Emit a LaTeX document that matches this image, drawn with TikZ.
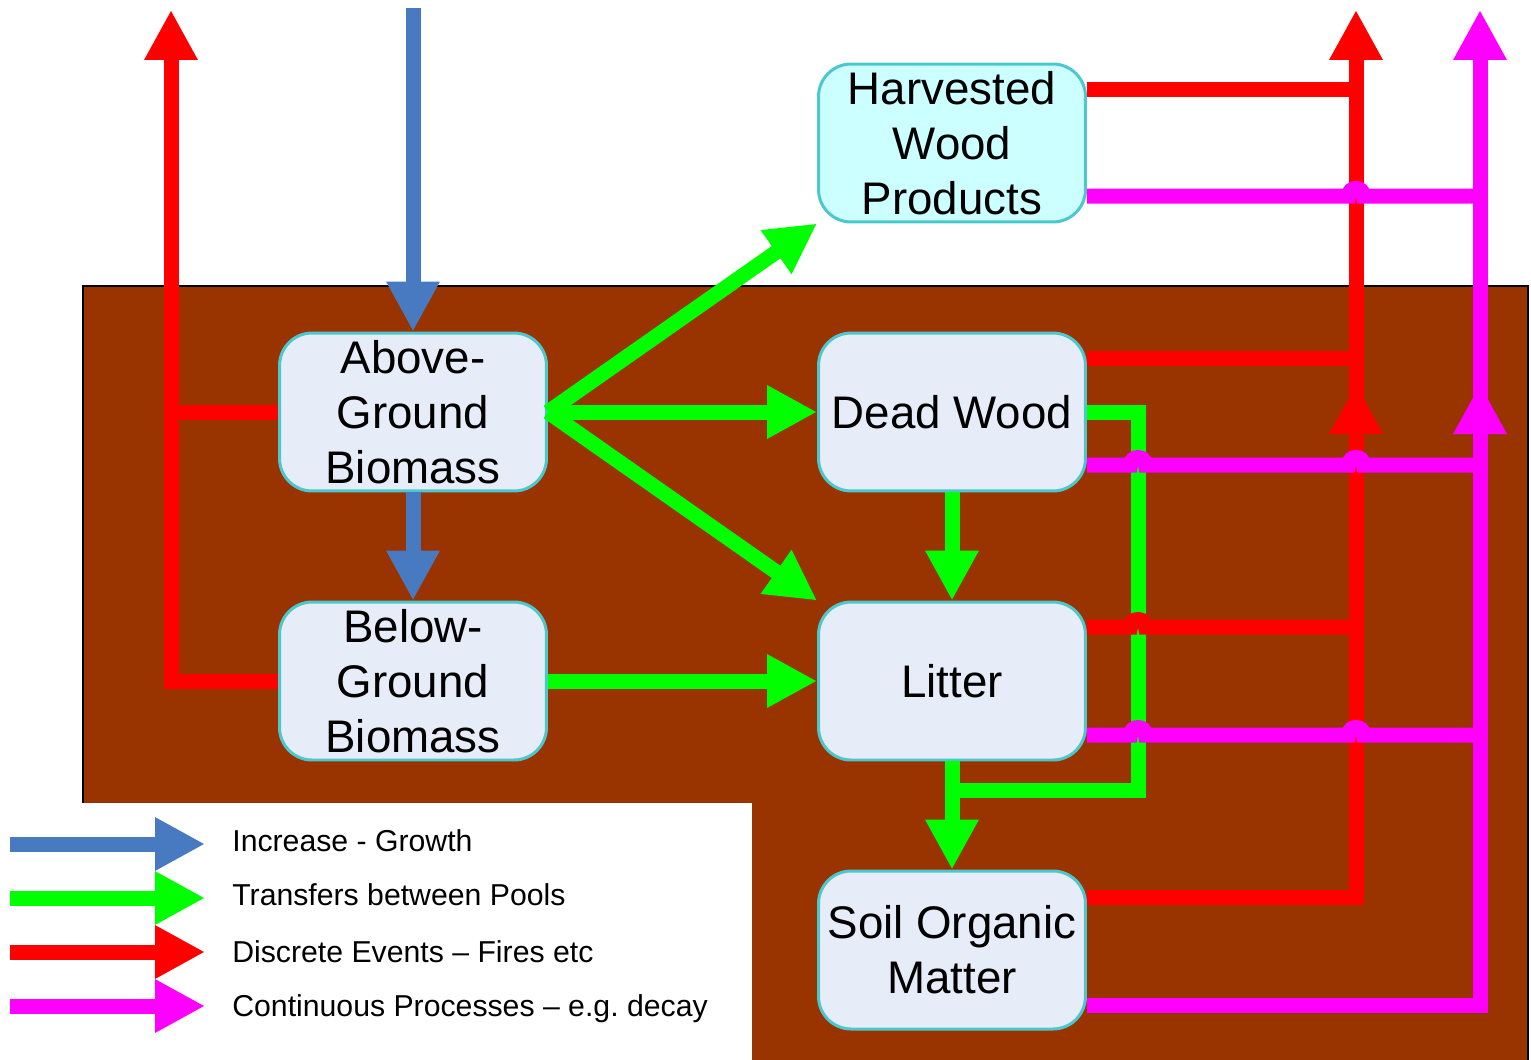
\documentclass[tikz,border=0pt]{standalone}
\usepackage{fontspec}
\setmainfont{Liberation Sans}
\usetikzlibrary{arrows.meta,calc}

\definecolor{soil}{RGB}{153,51,0}
\definecolor{growthblue}{RGB}{72,122,193}
\definecolor{poolgreen}{RGB}{0,255,0}
\definecolor{firered}{RGB}{255,0,0}
\definecolor{decaypink}{RGB}{255,0,255}
\definecolor{poolline}{RGB}{75,200,205}
\definecolor{poolfill}{RGB}{230,236,248}
\definecolor{woodfill}{RGB}{204,255,255}

\begin{document}
\begin{tikzpicture}[x=0.02cm, y=-0.02cm,
  pool/.style={draw=poolline, fill=poolfill, line width=0.06cm, rounded corners=0.65cm,
    minimum width=5.34cm, minimum height=3.16cm, align=center, inner sep=0pt,
    font=\fontsize{26}{31.2}\selectfont},
  flowline/.style={line width=0.3cm},
  flow/.style={flowline, -{Triangle[length=1cm,width=1cm]}},
  growth/.style={color=growthblue},
  transfer/.style={color=poolgreen},
  fire/.style={color=firered},
  decay/.style={color=decaypink},
  hop/.style={to path={-- ([xshift=-0.15cm]\tikztotarget) .. controls +(0,0.2cm) and +(0,0.2cm) .. ([xshift=0.15cm]\tikztotarget)}},
  legend/.style={anchor=base west, inner sep=0pt, font=\fontsize{17.2}{20}\selectfont}]
  \useasboundingbox (0,0) rectangle (1531,1059);

  % ground and legend area
  \draw[line width=0.05cm, fill=soil] (83,286) rectangle (1528,1090);
  \fill[white] (0,803) rectangle (752,1090);

  % pools
  \node[pool, fill=woodfill] (hwp) at (952,143) {Harvested\\Wood\\Products};
  \node[pool] (agb) at (413,412) {Above-\\Ground\\Biomass};
  \node[pool] (bgb) at (413,681) {Below-\\Ground\\Biomass};
  \node[pool] (dw) at (952,412) {Dead Wood};
  \node[pool] (lit) at (952,681) {Litter};
  \node[pool] (som) at (952,950) {Soil Organic\\Matter};

  % ends and buses
  \coordinate (gIn) at (413,8);
  \coordinate (fL) at (171,10);
  \coordinate (fTop) at (1356,10);
  \coordinate (fMid) at (1356,384);
  \coordinate (fJoin) at (1356,402);
  \coordinate (dTop) at (1480,10);
  \coordinate (dMid) at (1480,384);
  \coordinate (dJoin) at (1480,402);
  \coordinate (gBus) at (1138,790);
  \coordinate (hwpF) at ($(hwp.east)+(0,-54)$);
  \coordinate (hwpD) at ($(hwp.east)+(0,53)$);
  \coordinate (dwF) at ($(dw.east)+(0,-54)$);
  \coordinate (dwD) at ($(dw.east)+(0,53)$);
  \coordinate (litF) at ($(lit.east)+(0,-54)$);
  \coordinate (litD) at ($(lit.east)+(0,54)$);
  \coordinate (somF) at ($(som.east)+(0,-53)$);
  \coordinate (somD) at ($(som.east)+(0,55)$);

  % growth
  \draw[flow, growth] (gIn) -- (agb.north);
  \draw[flow, growth] (agb.south) -- (bgb.north);

  % transfers
  \draw[flow, transfer] (agb.east) -- (hwp.south west);
  \draw[flow, transfer] (agb.east) -- (dw.west);
  \draw[flow, transfer] (agb.east) -- (lit.north west);
  \draw[flow, transfer] (bgb.east) -- (lit.west);
  \draw[flow, transfer] (dw.south) -- (lit.north);
  \draw[flow, transfer] (lit.south) -- (som.north);
  \draw[flowline, transfer] (dw.east) -| (gBus) -- (gBus -| lit.south);

  % discrete events
  \draw[flow, fire] (bgb.west) -| (fL);
  \draw[flowline, fire] (agb.west) -- (agb.west -| fL);
  \draw[flow, fire] (somF) -| (fMid);
  \draw[flowline, fire] (litF) to[hop] (litF -| gBus) -- (litF -| fMid);
  \draw[flow, fire] (fJoin) -- (fTop);
  \draw[flowline, fire] (dwF) -- (dwF -| fTop);
  \draw[flowline, fire] (hwpF) -- (hwpF -| fTop);

  % continuous processes
  \draw[flow, decay] (somD) -| (dMid);
  \draw[flowline, decay] (litD) to[hop] (litD -| gBus) to[hop] (litD -| fMid) -- (litD -| dMid);
  \draw[flow, decay] (dJoin) -- (dTop);
  \draw[flowline, decay] (dwD) to[hop] (dwD -| gBus) to[hop] (dwD -| fMid) -- (dwD -| dMid);
  \draw[flowline, decay] (hwpD) to[hop] (hwpD -| fMid) -- (hwpD -| dMid);

  % legend
  \foreach \lg/\sty/\txt/\y/\b in {lgGrowth/growth/Increase - Growth/844/7,
      lgTransfer/transfer/Transfers between Pools/898/7,
      lgFire/fire/Discrete Events – Fires etc/952/10,
      lgDecay/decay/Continuous Processes – e.g.\ decay/1006/10} {
    \node[legend] (\lg) at (232,\y+\b) {\txt};
    \draw[flow, \sty] ($(\lg.base west)+(-222,-\b)$) -- ($(\lg.base west)+(-27,-\b)$);
  }
\end{tikzpicture}
\end{document}
